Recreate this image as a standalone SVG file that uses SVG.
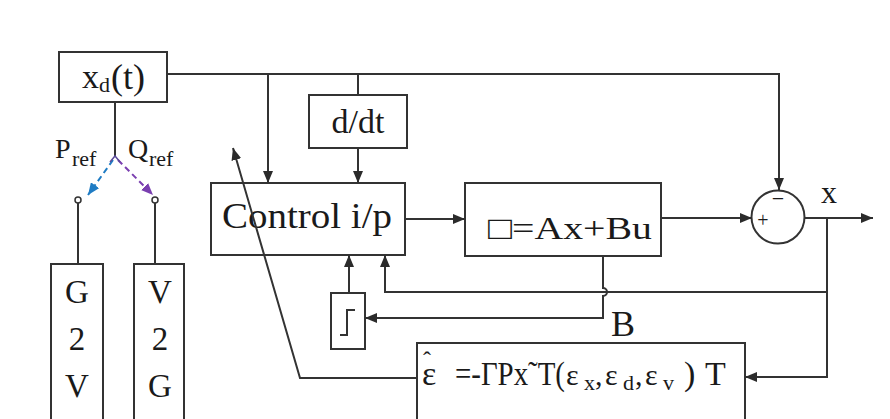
<svg xmlns="http://www.w3.org/2000/svg" width="890" height="419" viewBox="0 0 890 419">
<defs>
<marker id="ah" viewBox="0 0 12 10" refX="12" refY="5" markerWidth="12" markerHeight="10" markerUnits="userSpaceOnUse" orient="auto">
<path d="M0,0 L12,5 L0,10 Z" fill="#2b2b2b"/>
</marker>
<marker id="ahb" viewBox="0 0 12 10" refX="12" refY="5" markerWidth="12" markerHeight="10" markerUnits="userSpaceOnUse" orient="auto">
<path d="M0,0 L12,5 L0,10 Z" fill="#1f7cc4"/>
</marker>
<marker id="ahp" viewBox="0 0 12 10" refX="12" refY="5" markerWidth="12" markerHeight="10" markerUnits="userSpaceOnUse" orient="auto">
<path d="M0,0 L12,5 L0,10 Z" fill="#7a3fb0"/>
</marker>
</defs>
<style>
.box{fill:#fff;stroke:#333;stroke-width:2}
.ln{fill:none;stroke:#333;stroke-width:2}
text{fill:#1a1a1a;font-family:'Liberation Serif','DejaVu Serif',serif}
</style>
<rect width="890" height="419" fill="#fff"/>

<g id="xd">
<rect class="box" x="59" y="52" width="108" height="50"/>
<text x="82" y="88" font-size="34">x</text>
<text x="99" y="92" font-size="22">d</text>
<text x="111" y="89" font-size="36" fill="#3c2c5e">(t)</text>
</g>

<g id="labels">
<text x="55" y="158" font-size="28">P</text>
<text x="72" y="166" font-size="22">ref</text>
<text x="128" y="158" font-size="28">Q</text>
<text x="149" y="166" font-size="22">ref</text>
</g>

<g id="g2v">
<rect class="box" x="51" y="264" width="52" height="160"/>
<text x="77" y="303" font-size="33" text-anchor="middle">G</text>
<text x="77" y="350" font-size="33" text-anchor="middle">2</text>
<text x="77" y="397" font-size="33" text-anchor="middle">V</text>
</g>

<g id="v2g">
<rect class="box" x="134" y="264" width="50" height="160"/>
<text x="160" y="303" font-size="33" text-anchor="middle">V</text>
<text x="160" y="350" font-size="33" text-anchor="middle">2</text>
<text x="160" y="397" font-size="33" text-anchor="middle">G</text>
</g>

<g id="ddt">
<rect class="box" x="309" y="95" width="98" height="53"/>
<text x="358" y="133" font-size="34" text-anchor="middle">d/dt</text>
</g>

<g id="control">
<rect class="box" x="211" y="183" width="194" height="72"/>
<text x="222" y="228" font-size="36" textLength="170" lengthAdjust="spacingAndGlyphs">Control i/p</text>
</g>

<g id="state">
<rect class="box" x="465" y="183" width="196" height="73"/>
<text x="488" y="239" font-size="32" textLength="164" lengthAdjust="spacingAndGlyphs">□=Ax+Bu</text>
</g>

<g id="sum">
<circle cx="778" cy="217" r="26.5" fill="#fff" stroke="#333" stroke-width="2"/>
<text x="778" y="206" font-size="22" text-anchor="middle">−</text>
<text x="763" y="227" font-size="20" text-anchor="middle">+</text>
<text x="829" y="203" font-size="32" text-anchor="middle">x</text>
</g>

<g id="step">
<rect class="box" x="331" y="293" width="34" height="56"/>
<path class="ln" d="M340,335 H347 V310 H355"/>
</g>

<g id="blabel">
<text x="611" y="336" font-size="36">B</text>
</g>

<g id="adapt">
<rect class="box" x="417" y="343" width="328" height="90"/>
<text x="422" y="385" font-size="34">ε</text>
<text x="423" y="368" font-size="24">ˆ</text>
<text x="455" y="385" font-size="34" textLength="110" lengthAdjust="spacingAndGlyphs">=-ΓPx˜T(</text>
<text x="566" y="385" font-size="30">ε</text>
<text x="584" y="390" font-size="22">x</text>
<text x="595" y="385" font-size="30">,</text>
<text x="605" y="385" font-size="30">ε</text>
<text x="623" y="390" font-size="22">d</text>
<text x="635" y="385" font-size="30">,</text>
<text x="645" y="385" font-size="30">ε</text>
<text x="663" y="390" font-size="22">v</text>
<text x="684" y="385" font-size="34">)</text>
<text x="705" y="385" font-size="34">T</text>
</g>

<g id="connectors">
<path class="ln" d="M167,74 H779 V190" marker-end="url(#ah)"/>
<path class="ln" d="M268,74 V183" marker-end="url(#ah)"/>
<path class="ln" d="M358,74 V95"/>
<path class="ln" d="M358,148 V183" marker-end="url(#ah)"/>
<path class="ln" d="M405,219 H465" marker-end="url(#ah)"/>
<path class="ln" d="M661,218 H752" marker-end="url(#ah)"/>
<path class="ln" d="M805,218 H873" marker-end="url(#ah)"/>
<path class="ln" d="M827,218 V377 H745" marker-end="url(#ah)"/>
<path class="ln" d="M827,292 H385 V255" marker-end="url(#ah)"/>
<path class="ln" d="M603,256 V288 A4,4 0 0 1 603,296 V318 H365" marker-end="url(#ah)"/>
<path class="ln" d="M349,293 V255" marker-end="url(#ah)"/>
<path class="ln" d="M417,378 H300 L233,148" marker-end="url(#ah)"/>
<path class="ln" d="M115,102 V156"/>
<path fill="none" stroke="#1f7cc4" stroke-width="2" stroke-dasharray="6,4" d="M113,160 L88,195" marker-end="url(#ahb)"/>
<path fill="none" stroke="#7a3fb0" stroke-width="2" stroke-dasharray="6,4" d="M118,160 L153,195" marker-end="url(#ahp)"/>
<path fill="none" stroke="#5a4a9a" stroke-width="1.5" d="M110,162 L115,156 L120,162"/>
<circle cx="78" cy="200" r="3" fill="#fff" stroke="#333" stroke-width="1.5"/>
<circle cx="155" cy="200" r="3" fill="#fff" stroke="#333" stroke-width="1.5"/>
<path class="ln" d="M78,203 V264"/>
<path class="ln" d="M155,203 V264"/>
</g>
</svg>
